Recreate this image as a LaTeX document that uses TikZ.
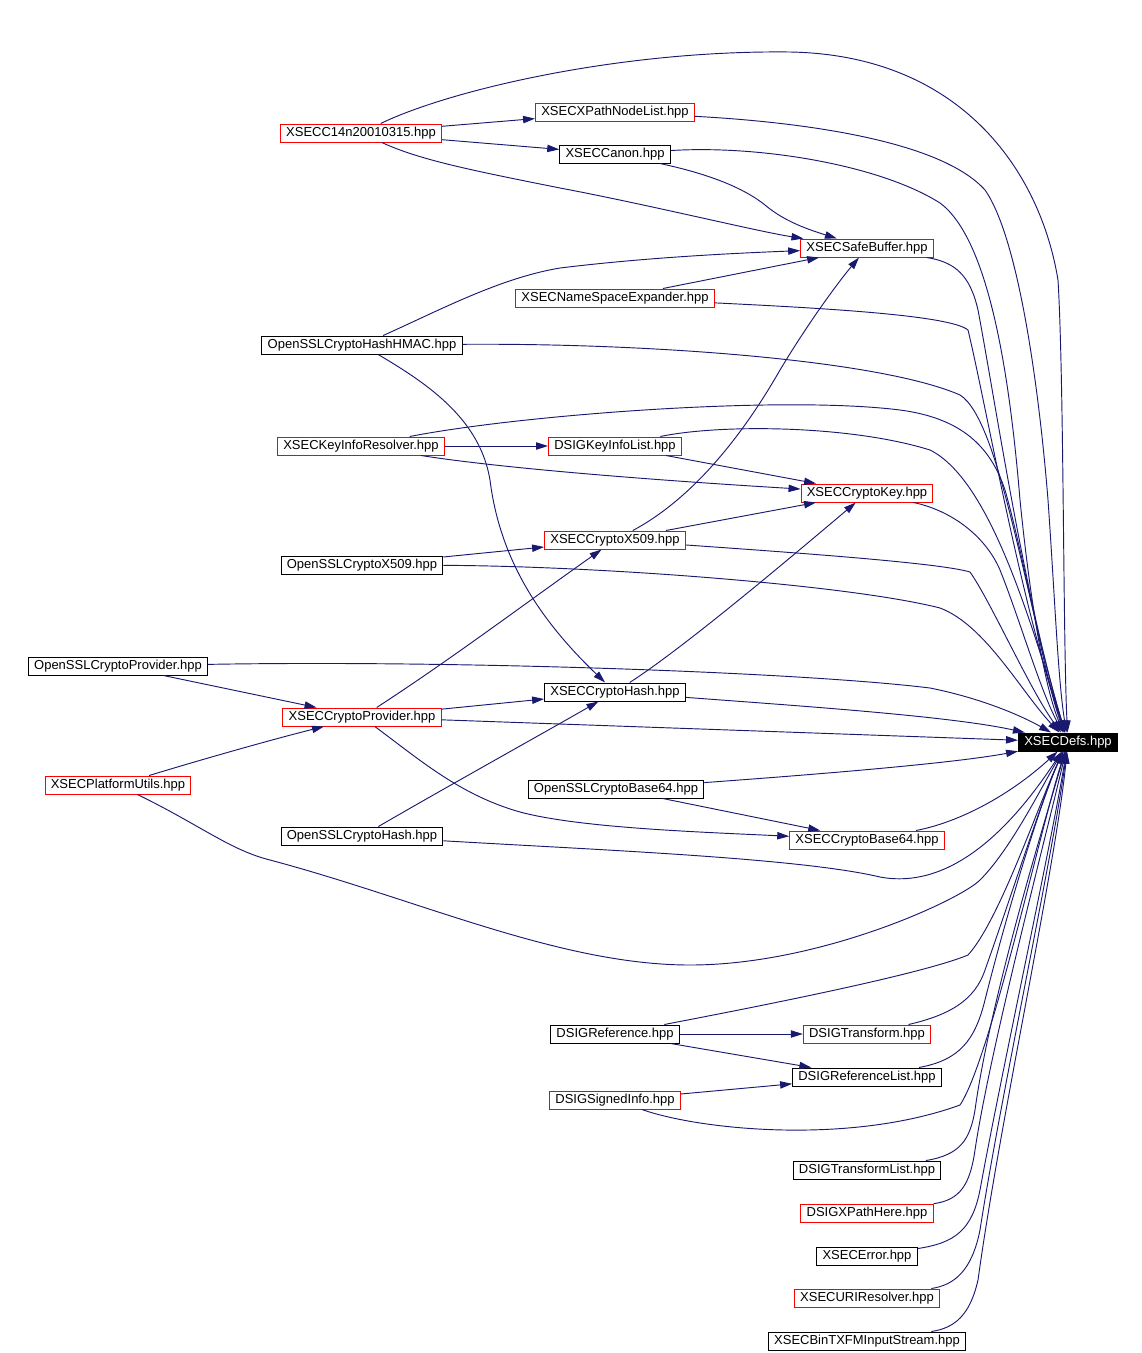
\documentclass[tikz,border=0pt]{standalone}
\usepackage{fontspec}
\setmainfont{Liberation Sans}
\usetikzlibrary{arrows.meta}

\definecolor{edgeblue}{HTML}{191970}

\begin{document}
\begin{tikzpicture}[x=0.75pt,y=-0.75pt,
  hdr/.style={draw=black,line width=0.75pt,fill=white,inner xsep=4.3pt,inner ysep=0pt,
    minimum height=13.5pt,font=\fontsize{9.75}{11}\selectfont},
  hdrred/.style={hdr,draw=red},
  inc/.style={-{Triangle[length=9pt,width=5.5pt]},edgeblue,line width=0.7pt}]
\useasboundingbox (0,0) rectangle (1142,1353);

% headers
\node[hdrred] (c14n) at (361,133) {XSECC14n20010315.hpp};
\node[hdrred] (xpathlist) at (615,112) {XSECXPathNodeList.hpp};
\node[hdr] (canon) at (615,154) {XSECCanon.hpp};
\node[hdrred] (safebuf) at (867,248) {XSECSafeBuffer.hpp};
\node[hdrred] (nsexp) at (615,298) {XSECNameSpaceExpander.hpp};
\node[hdr] (hmac) at (362,345) {OpenSSLCryptoHashHMAC.hpp};
\node[hdrred] (kires) at (361,446) {XSECKeyInfoResolver.hpp};
\node[hdrred] (kilist) at (615,446) {DSIGKeyInfoList.hpp};
\node[hdrred] (ckey) at (867,493) {XSECCryptoKey.hpp};
\node[hdrred] (cx509) at (615,540) {XSECCryptoX509.hpp};
\node[hdr] (ox509) at (362,565) {OpenSSLCryptoX509.hpp};
\node[hdr] (oprov) at (118,666) {OpenSSLCryptoProvider.hpp};
\node[hdr] (chash) at (615,692) {XSECCryptoHash.hpp};
\node[hdrred] (cprov) at (362,717) {XSECCryptoProvider.hpp};
\node[hdr,fill=black,text=white] (defs) at (1068,742) {XSECDefs.hpp};
\node[hdrred] (platutils) at (118,785) {XSECPlatformUtils.hpp};
\node[hdr] (ob64) at (616,789) {OpenSSLCryptoBase64.hpp};
\node[hdr] (ohash) at (362,836) {OpenSSLCryptoHash.hpp};
\node[hdrred] (cb64) at (867,840) {XSECCryptoBase64.hpp};
\node[hdr] (dref) at (615,1034) {DSIGReference.hpp};
\node[hdrred] (dtrans) at (867,1034) {DSIGTransform.hpp};
\node[hdr] (dreflist) at (867,1077) {DSIGReferenceList.hpp};
\node[hdrred] (dsigned) at (615,1100) {DSIGSignedInfo.hpp};
\node[hdr] (dtlist) at (867,1170) {DSIGTransformList.hpp};
\node[hdrred] (dxph) at (867,1213) {DSIGXPathHere.hpp};
\node[hdr] (xerr) at (867,1256) {XSECError.hpp};
\node[hdrred] (xuri) at (867,1298) {XSECURIResolver.hpp};
\node[hdr] (xbin) at (867,1341) {XSECBinTXFMInputStream.hpp};

% includes between headers
\draw[inc] (c14n) -- (xpathlist);
\draw[inc] (c14n) -- (canon);
\draw[inc] (c14n) .. controls (420,160) and (470,170) .. (560,188) .. controls (650,205) and (760,232) .. (safebuf);
\draw[inc] (canon) .. controls (700,172) and (740,185) .. (765,205) .. controls (785,222) and (810,230) .. (safebuf);
\draw[inc] (hmac) .. controls (440,310) and (500,278) .. (560,268) .. controls (650,257) and (740,253) .. (safebuf);
\draw[inc] (nsexp) -- (safebuf);
\draw[inc] (hmac) .. controls (430,385) and (480,420) .. (490,480) .. controls (500,560) and (540,620) .. (chash);
\draw[inc] (kires) -- (kilist);
\draw[inc] (kires) .. controls (500,468) and (650,480) .. (ckey);
\draw[inc] (kilist) -- (ckey);
\draw[inc] (cx509) -- (ckey);
\draw[inc] (cx509) .. controls (690,500) and (740,440) .. (780,370) .. controls (810,320) and (840,280) .. (safebuf);
\draw[inc] (ox509) -- (cx509);
\draw[inc] (oprov) -- (cprov);
\draw[inc] (chash) .. controls (680,650) and (770,575) .. (ckey);
\draw[inc] (cprov) .. controls (450,660) and (530,600) .. (cx509);
\draw[inc] (cprov) -- (chash);
\draw[inc] (cprov) .. controls (420,760) and (460,795) .. (520,812) .. controls (580,828) and (700,832) .. (cb64);
\draw[inc] (platutils) .. controls (200,760) and (270,740) .. (cprov);
\draw[inc] (ob64) -- (cb64);
\draw[inc] (ohash) .. controls (450,785) and (540,735) .. (chash);
\draw[inc] (dref) -- (dtrans);
\draw[inc] (dref) -- (dreflist);
\draw[inc] (dsigned) -- (dreflist);

% everything includes XSECDefs.hpp
\draw[inc] (c14n) .. controls (450,90) and (620,50) .. (790,52) .. controls (960,55) and (1040,170) .. (1058,280) .. controls (1064,380) and (1063,640) .. (defs);
\draw[inc] (xpathlist) .. controls (800,122) and (940,140) .. (985,190) .. controls (1020,240) and (1040,400) .. (1048,500) .. controls (1055,600) and (1058,680) .. (defs);
\draw[inc] (canon) .. controls (760,145) and (880,165) .. (940,203) .. controls (990,240) and (1010,380) .. (1020,500) .. controls (1030,600) and (1045,690) .. (defs);
\draw[inc] (safebuf) .. controls (955,262) and (970,275) .. (978,310) .. controls (995,400) and (1025,600) .. (defs);
\draw[inc] (nsexp) .. controls (820,308) and (950,315) .. (968,330) .. controls (985,400) and (1020,600) .. (defs);
\draw[inc] (hmac) .. controls (650,343) and (880,360) .. (960,395) .. controls (1000,420) and (1025,600) .. (defs);
\draw[inc] (kires) .. controls (520,415) and (780,395) .. (900,410) .. controls (960,418) and (990,445) .. (1005,490) .. controls (1025,560) and (1045,680) .. (defs);
\draw[inc] (kilist) .. controls (720,424) and (850,425) .. (930,450) .. controls (990,480) and (1030,620) .. (defs);
\draw[inc] (ckey) .. controls (950,510) and (985,535) .. (1000,570) .. controls (1020,620) and (1040,690) .. (defs);
\draw[inc] (cx509) .. controls (800,553) and (940,563) .. (970,572) .. controls (990,600) and (1030,690) .. (defs);
\draw[inc] (ox509) .. controls (600,566) and (850,585) .. (940,608) .. controls (985,625) and (1020,690) .. (defs);
\draw[inc] (oprov) .. controls (450,660) and (800,672) .. (930,688) .. controls (980,698) and (1020,715) .. (defs);
\draw[inc] (chash) .. controls (800,706) and (950,716) .. (defs);
\draw[inc] (cprov) -- (defs);
\draw[inc] (ob64) .. controls (850,772) and (960,762) .. (defs);
\draw[inc] (cb64) .. controls (960,822) and (1010,795) .. (defs);
\draw[inc] (ohash) .. controls (600,850) and (800,858) .. (880,877) .. controls (950,890) and (1010,830) .. (defs);
\draw[inc] (platutils) .. controls (200,825) and (230,850) .. (270,860) .. controls (420,900) and (560,965) .. (690,965) .. controls (820,965) and (960,900) .. (980,880) .. controls (1010,850) and (1040,790) .. (defs);
\draw[inc] (dref) .. controls (750,1008) and (920,975) .. (968,955) .. controls (1000,920) and (1040,800) .. (defs);
\draw[inc] (dtrans) .. controls (950,1015) and (975,1000) .. (985,970) .. controls (1010,900) and (1045,790) .. (defs);
\draw[inc] (dreflist) .. controls (960,1060) and (975,1040) .. (985,1000) .. controls (1010,900) and (1045,790) .. (defs);
\draw[inc] (dsigned) .. controls (700,1130) and (850,1145) .. (960,1105) .. controls (990,1060) and (1040,830) .. (defs);
\draw[inc] (dtlist) .. controls (960,1155) and (970,1140) .. (975,1110) .. controls (990,1000) and (1045,820) .. (defs);
\draw[inc] (dxph) .. controls (960,1200) and (970,1185) .. (975,1150) .. controls (990,1050) and (1045,840) .. (defs);
\draw[inc] (xerr) .. controls (955,1243) and (972,1230) .. (980,1190) .. controls (1000,1080) and (1050,850) .. (defs);
\draw[inc] (xuri) .. controls (955,1285) and (972,1270) .. (980,1230) .. controls (1000,1100) and (1052,860) .. (defs);
\draw[inc] (xbin) .. controls (955,1328) and (970,1315) .. (978,1280) .. controls (1000,1120) and (1055,870) .. (defs);
\end{tikzpicture}
\end{document}
